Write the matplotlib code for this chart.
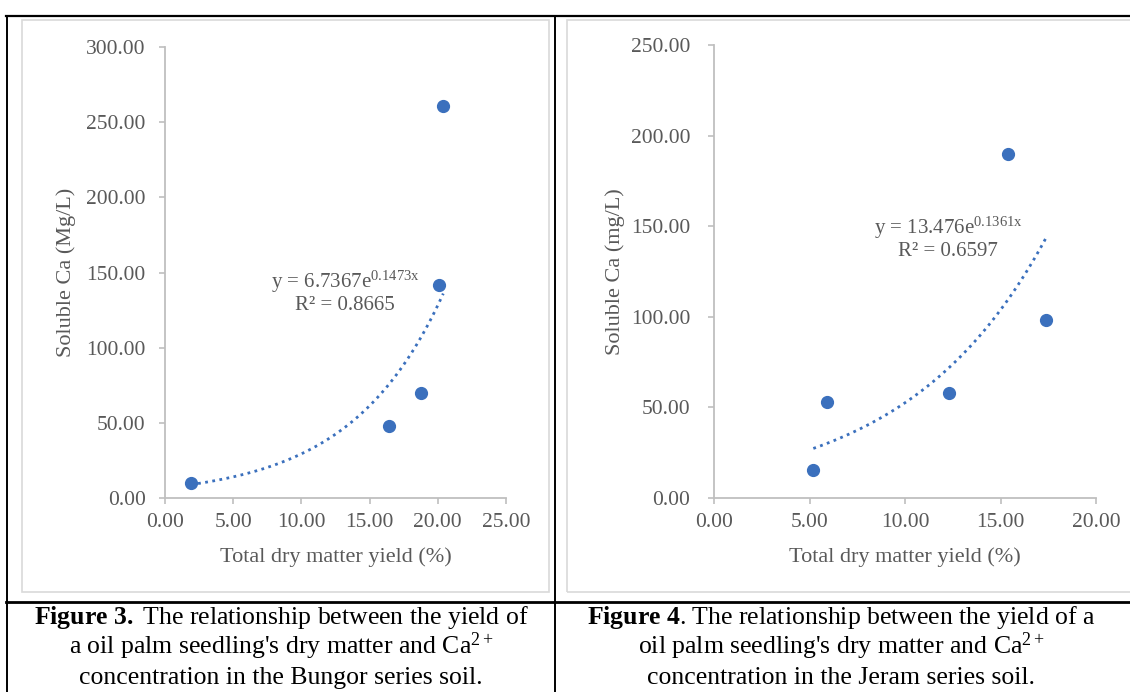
import numpy as np
import matplotlib
matplotlib.use('Agg')
import matplotlib.pyplot as plt
from matplotlib.lines import Line2D
from matplotlib.patches import Rectangle

plt.rcParams['font.family'] = ['Liberation Serif', 'DejaVu Serif']
plt.rcParams['mathtext.fontset'] = 'custom'
plt.rcParams['mathtext.rm'] = 'Liberation Serif'
plt.rcParams['mathtext.bf'] = 'Liberation Serif:bold'
plt.rcParams['mathtext.it'] = 'Liberation Serif:italic'

# -------------------------------------------------------------------
# Data
# -------------------------------------------------------------------
bungor_yield = [1.9, 16.4, 18.8, 20.1, 20.4]
bungor_ca    = [10.0, 48.0, 70.0, 142.0, 261.0]
bungor_fit   = (6.7367, 0.1473)      # y = a * exp(b x)
bungor_r2    = 0.8665

jeram_yield = [5.2, 5.9, 12.3, 15.4, 17.4]
jeram_ca    = [15.5, 53.0, 58.0, 190.0, 98.0]
jeram_fit   = (13.476, 0.1361)
jeram_r2    = 0.6597

bungor_xticks = [0, 5, 10, 15, 20, 25]
bungor_yticks = [0, 50, 100, 150, 200, 250, 300]
jeram_xticks  = [0, 5, 10, 15, 20]
jeram_yticks  = [0, 50, 100, 150, 200, 250]

# -------------------------------------------------------------------
W, H = 1130, 692
fig = plt.figure(figsize=(W / 100, H / 100), dpi=100)
fig.patch.set_facecolor('white')

def fx(px):
    return px / W

def fy(py):
    return 1 - py / H

BLUE = '#3b70bd'
GREY_TXT = '#595959'
GREY_AX = '#bfbfbf'

# chart frames (light grey)
for x0, x1 in [(22, 549), (567, 1140)]:
    fig.patches.append(Rectangle((fx(x0), fy(592)), fx(x1) - fx(x0), fy(20) - fy(592),
                                 transform=fig.transFigure, fill=False,
                                 edgecolor='#d9d9d9', linewidth=1.2))

# table lines (black)
def hline(y, x0, x1, lw=1.6):
    fig.lines.append(Line2D([fx(x0), fx(x1)], [fy(y), fy(y)], transform=fig.transFigure,
                            color='black', linewidth=lw))

def vline(x, y0, y1, lw=1.4):
    fig.lines.append(Line2D([fx(x), fx(x)], [fy(y0), fy(y1)], transform=fig.transFigure,
                            color='black', linewidth=lw))

hline(16, 6, 1130)
hline(602, 6, 1130, lw=2.0)
vline(7, 16, 692)
vline(555, 16, 692)


def scatter_panel(rect, xs, ys, fit, r2, xticks, yticks, ylabel, eq_xy, ylab_x, ypad):
    ax = fig.add_axes(rect)
    ax.plot(xs, ys, 'o', color=BLUE, markersize=8.5, zorder=3)
    a, b = fit
    xx = np.linspace(min(xs), max(xs), 100)
    ax.plot(xx, a * np.exp(b * xx), linestyle=(0, (1, 1.6)), color=BLUE,
            linewidth=2.0, zorder=2)
    ax.set_xlim(xticks[0], xticks[-1])
    ax.set_ylim(yticks[0], yticks[-1])
    ax.set_xticks(xticks)
    ax.set_yticks(yticks)
    ax.set_xticklabels([f'{v:.2f}' for v in xticks])
    ax.set_yticklabels([f'{v:.2f}' for v in yticks])
    for s in ['top', 'right']:
        ax.spines[s].set_visible(False)
    for s in ['left', 'bottom']:
        ax.spines[s].set_color(GREY_AX)
        ax.spines[s].set_linewidth(1.3)
    ax.tick_params(axis='x', direction='out', length=4, width=1.2, color=GREY_AX,
                   labelsize=15.5, labelcolor=GREY_TXT, pad=7)
    ax.tick_params(axis='y', direction='out', length=4, width=1.2, color=GREY_AX,
                   labelsize=15.5, labelcolor=GREY_TXT, pad=ypad)
    ax.set_xlabel('Total dry matter yield (%)', fontsize=16, color=GREY_TXT)
    ax.xaxis.set_label_coords(0.5, -(557 - 498) / (rect[3] * H), transform=ax.transAxes)
    ax.xaxis.label.set_va('center')
    ax.set_ylabel(ylabel, fontsize=16, color=GREY_TXT)
    ax.yaxis.set_label_coords(-(rect[0] * W - ylab_x) / (rect[2] * W), 0.5)
    ax.yaxis.label.set_va('center')
    ex, ey = eq_xy
    fig.text(fx(ex), fy(ey), f'y = {a}e$^{{\\mathregular{{{b}x}}}}$',
             fontsize=15, color=GREY_TXT, ha='center', va='center')
    fig.text(fx(ex), fy(ey + 24), f'R² = {r2}',
             fontsize=15, color=GREY_TXT, ha='center', va='center')
    return ax


scatter_panel([fx(165), fy(498), 341 / W, 451 / H], bungor_yield, bungor_ca,
              bungor_fit, bungor_r2, bungor_xticks, bungor_yticks,
              'Soluble Ca (Mg/L)', (345, 282), 66, 10)
scatter_panel([fx(714), fy(498), 382 / W, 453 / H], jeram_yield, jeram_ca,
              jeram_fit, jeram_r2, jeram_xticks, jeram_yticks,
              'Soluble Ca (mg/L)', (948, 228), 615, 13)

# -------------------------------------------------------------------
# Captions
# -------------------------------------------------------------------
cap_left = [r'$\mathbf{Figure\ 3.}$ The relationship between the yield of',
            r"a oil palm seedling's dry matter and Ca$^{2+}$",
            'concentration in the Bungor series soil.']
cap_right = [r'$\mathbf{Figure\ 4}$. The relationship between the yield of a',
             r"oil palm seedling's dry matter and Ca$^{2+}$",
             'concentration in the Jeram series soil.']
for cx, lines in [(281, cap_left), (841, cap_right)]:
    for i, line in enumerate(lines):
        fig.text(fx(cx), fy(624 + 30 * i), line, fontsize=18.5, color='black',
                 ha='center', va='baseline')

fig.savefig('out.png', dpi=100, facecolor='white')
